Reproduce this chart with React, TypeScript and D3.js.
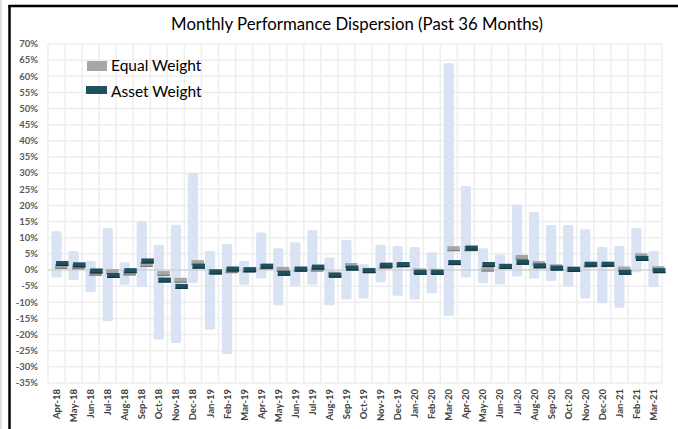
import * as d3 from "d3";

const months = [
  "Apr-18", "May-18", "Jun-18", "Jul-18", "Aug-18", "Sep-18", "Oct-18", "Nov-18", "Dec-18",
  "Jan-19", "Feb-19", "Mar-19", "Apr-19", "May-19", "Jun-19", "Jul-19", "Aug-19", "Sep-19",
  "Oct-19", "Nov-19", "Dec-19", "Jan-20", "Feb-20", "Mar-20", "Apr-20", "May-20", "Jun-20",
  "Jul-20", "Aug-20", "Sep-20", "Oct-20", "Nov-20", "Dec-20", "Jan-21", "Feb-21", "Mar-21",
];

// max / min of the range
const rangeHigh = [
  12, 5.9, 2.8, 13, 2.4, 15, 7.8, 14, 30.1, 5.9, 8.1, 2.8, 11.6, 6.7, 8.6, 12.4, 3.9, 9.3,
  1.8, 7.8, 7.4, 7.1, 5.5, 64, 26, 6.7, 4.7, 20.3, 18, 13.9, 13.9, 12.6, 7.1, 7.4, 13, 5.9,
];
const rangeLow = [
  -2.3, -3.1, -6.9, -15.9, -4.6, -5.3, -21.5, -22.6, -4, -18.5, -26, -4.6, -2.6, -10.9, -5, -4.6, -10.9, -9.1,
  -8.8, -3.8, -8, -9.1, -7.2, -14.2, -2.3, -4.1, -4.5, -2, -2.6, -3.4, -5, -8.8, -10.3, -11.7, -0.7, -5.3,
];

const equalWeight = [
  1.1, 1.0, -1.0, -0.5, -0.9, 1.7, -1.1, -3.2, 2.3, -0.5, -0.2, 0.0, 1.0, 0.2, 0.2, 0.3, -1.3, 1.4,
  -0.1, 1.1, 1.6, -0.3, -0.4, 6.6, 6.6, 0.3, 1.2, 3.9, 2.0, 1.0, 0.3, 1.6, 1.7, 0.3, 4.4, 0.4,
];
const assetWeight = [
  2.0, 1.6, -0.3, -1.7, -0.2, 2.8, -3.1, -5.1, 1.2, -0.6, 0.3, 0.1, 1.2, -1.0, 0.3, 0.9, -1.6, 0.6,
  -0.2, 1.5, 1.7, -0.7, -0.7, 2.3, 6.8, 1.7, 1.1, 2.4, 1.3, 0.6, 0.2, 1.8, 1.8, -0.7, 3.6, -0.2,
];

const yTicks = d3.range(-35, 71, 5);

const W = 678;
const H = 429;
const plot = { left: 48, right: 662, top: 44, bottom: 383 };
const FONT = "Lato, 'Open Sans', sans-serif";

export default function App() {
  const x = d3.scaleBand<string>().domain(months).range([plot.left, plot.right]).padding(0);
  const y = d3.scaleLinear().domain([-35, 70]).range([plot.bottom, plot.top]);
  const bw = x.bandwidth();
  const rangeW = bw * 0.6;
  const markW = 12.5;
  const markH = 5;

  const boundaries = months.map((m) => x(m)!).concat([plot.right]);

  return (
    <div style={{ position: "fixed", left: 0, top: 0 }}>
      <svg width={W} height={H} style={{ display: "block", background: "#fff" }}>
        {/* frame */}
        <line x1={1} x2={1} y1={0} y2={H} stroke="#bfbfbf" strokeWidth={1} />
        <line x1={9.5} x2={9.5} y1={5} y2={H} stroke="#000" strokeWidth={2.5} />
        <line x1={8.5} x2={W} y1={6} y2={6} stroke="#000" strokeWidth={2.5} />

        <text x={357} y={30} textAnchor="middle" fontFamily={FONT} fontSize={16.8} fill="#000">
          Monthly Performance Dispersion (Past 36 Months)
        </text>

        {/* grid */}
        <g>
          {yTicks.map((t) => (
            <line key={"h" + t} x1={plot.left} x2={plot.right} y1={y(t)} y2={y(t)}
              stroke="#eeeeee" strokeWidth={1.5} />
          ))}
          {boundaries.map((b, i) => (
            <line key={"v" + i} x1={b} x2={b} y1={plot.top} y2={plot.bottom}
              stroke="#eeeeee" strokeWidth={1.5} />
          ))}
        </g>

        {/* y labels */}
        <g fontFamily={FONT} fontSize={9.5} fontWeight={700} fill="#595959">
          {yTicks.map((t) => (
            <text key={"yl" + t} x={38} y={y(t)} dy="0.35em" textAnchor="end">{t}%</text>
          ))}
        </g>

        {/* range bars */}
        <g>
          {months.map((m, i) => (
            <rect key={"r" + m} x={x(m)! + (bw - rangeW) / 2} width={rangeW}
              y={y(rangeHigh[i])} height={y(rangeLow[i]) - y(rangeHigh[i])}
              rx={1.5} fill="#dae3f3" />
          ))}
        </g>

        {/* zero line */}
        <line x1={plot.left} x2={plot.right} y1={y(0)} y2={y(0)} stroke="#c9c9c9" strokeWidth={1.2} />

        {/* equal weight markers */}
        <g>
          {months.map((m, i) => {
            const cx = x(m)! + bw / 2;
            const yy = y(equalWeight[i]);
            return (
              <g key={"e" + m}>
                <rect x={cx - 1.5} y={yy - markH / 2} width={markW} height={markH} fill="#a6a6a6" />
                <rect x={cx - 1.5} y={yy + markH / 2 - 1.2} width={markW} height={1.2} fill="#7f7f7f" />
              </g>
            );
          })}
        </g>

        {/* asset weight markers */}
        <g>
          {months.map((m, i) => {
            const cx = x(m)! + bw / 2;
            const yy = y(assetWeight[i]);
            return (
              <g key={"a" + m}>
                <rect x={cx - 0.5} y={yy - markH / 2} width={markW} height={markH} fill="#1e5060" />
                <rect x={cx - 0.5} y={yy + markH / 2 - 1.2} width={markW} height={1.2} fill="#123640" />
              </g>
            );
          })}
        </g>

        {/* x labels */}
        <g fontFamily={FONT} fontSize={9.5} fontWeight={700} fill="#404040">
          {months.map((m) => {
            const cx = x(m)! + bw / 2;
            return (
              <text key={"xl" + m} transform={`translate(${cx + 3.5},${plot.bottom + 6}) rotate(-90)`}
                textAnchor="end">{m}</text>
            );
          })}
        </g>

        {/* legend */}
        <g fontFamily={FONT} fontSize={15.5} fill="#000">
          <rect x={87} y={61} width={20} height={10} fill="#a6a6a6" />
          <text x={111} y={70.5}>Equal Weight</text>
          <rect x={86} y={86} width={21} height={8} fill="#1e5060" />
          <text x={111} y={96.5}>Asset Weight</text>
        </g>
      </svg>
    </div>
  );
}
